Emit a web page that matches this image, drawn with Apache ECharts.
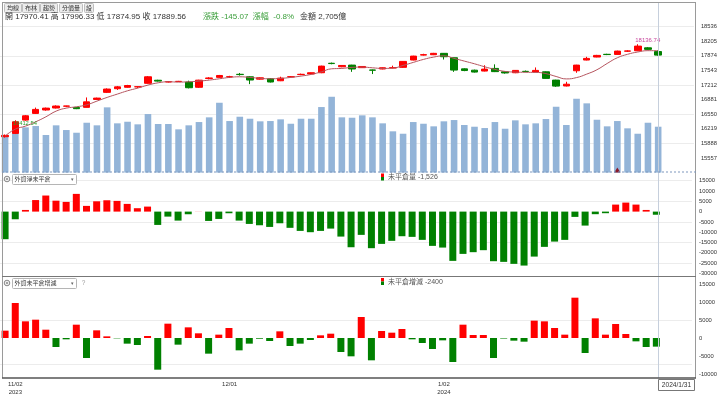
<!DOCTYPE html>
<html><head><meta charset="utf-8">
<script src="https://cdn.jsdelivr.net/npm/echarts@6/dist/echarts.min.js"></script>
<style>html,body{margin:0;padding:0;background:#fff}#c{width:720px;height:394px}</style>
</head><body><div id="c"></div>
<script>
// ---------------- data ----------------
const dates = ['2023/11/01','2023/11/02','2023/11/03','2023/11/06','2023/11/07','2023/11/08','2023/11/09','2023/11/10','2023/11/13','2023/11/14','2023/11/15','2023/11/16','2023/11/17','2023/11/20','2023/11/21','2023/11/22','2023/11/23','2023/11/24','2023/11/27','2023/11/28','2023/11/29','2023/11/30',
'2023/12/01','2023/12/04','2023/12/05','2023/12/06','2023/12/07','2023/12/08','2023/12/11','2023/12/12','2023/12/13','2023/12/14','2023/12/15','2023/12/18','2023/12/19','2023/12/20','2023/12/21','2023/12/22','2023/12/25','2023/12/26','2023/12/27','2023/12/28','2023/12/29',
'2024/01/02','2024/01/03','2024/01/04','2024/01/05','2024/01/08','2024/01/09','2024/01/10','2024/01/11','2024/01/12','2024/01/15','2024/01/16','2024/01/17','2024/01/18','2024/01/19','2024/01/22','2024/01/23','2024/01/24','2024/01/25','2024/01/26','2024/01/29','2024/01/30','2024/01/31'];
const opens  = [16040,16115,16416,16568,16645,16690,16732,16704,16705,16885,17045,17128,17160,17170,17250,17320,17280,17290,17278,17160,17360,17385,17395,17455,17398,17345,17353,17308,17395,17448,17462,17490,17705,17625,17663,17605,17552,17575,17598,17612,17778,17890,17898,17930,17830,17578,17548,17528,17588,17510,17490,17522,17506,17511,17323,17190,17535,17778,17846,17908,17905,17978,17988,18055,17970.41];
const closes = [16070,16378,16514,16659,16688,16735,16736,16675,16830,16915,17120,17170,17200,17173,17398,17300,17288,17295,17150,17322,17372,17428,17400,17448,17325,17375,17280,17368,17400,17455,17490,17640,17698,17655,17575,17632,17548,17603,17605,17747,17867,17900,17930,17853,17550,17540,17505,17572,17515,17485,17543,17518,17543,17362,17187,17230,17663,17815,17883,17902,17981,17985,18094,18020,17889.56];
const highs  = [16090,16412.54,16530,16700,16700,16750,16740,16712,16930,16925,17135,17190,17215,17178,17415,17330,17300,17305,17310,17330,17390,17440,17420,17485,17410,17385,17365,17400,17412,17470,17495,17650,17720,17665,17670,17640,17560,17610,17650,17755,17875,17920,17940,17935,17835,17590,17560,17660,17680,17520,17550,17540,17610,17520,17330,17285,17670,17851,17895,17920,17990,18000,18136.74,18070,17996.33];
const lows   = [16020,16100,16400,16555,16630,16680,16710,16665,16700,16880,17030,17100,17150,17140,17240,17290,17270,17280,17135,17145,17340,17375,17370,17425,17232,17335,17270,17300,17385,17435,17455,17480,17682,17615,17510,17598,17460,17568,17592,17600,17770,17880,17890,17790,17510,17525,17495,17520,17505,17470,17480,17500,17500,17355,17170,17180,17489,17770,17840,17890,17898,17960,17980,18010,17874.95];
const ma = [16054,16212,16280,16378,16491,16620,16688,16718,16763,16847,16931,17006,17081,17142,17210,17262,17285,17278,17285,17300,17323,17353,17384,17398,17384,17362,17353,17362,17384,17414,17452,17511,17579,17588,17611,17618,17602,17588,17595,17656,17724,17792,17845,17874,17815,17754,17693,17625,17566,17520,17505,17500,17498,17470,17405,17350,17380,17459,17558,17700,17830,17908,17960,17990,17990];
const volumes = [2115,2804,2668,2745,2215,2786,2509,2350,2939,2786,3846,2904,2998,2845,3452,2863,2863,2550,2786,2980,3257,4117,3039,3293,3175,3022,3039,3139,2880,3175,3175,3864,4470,3257,3234,3375,3257,2904,2433,2291,2980,2880,2727,3022,3098,2804,2704,2627,2980,2586,3080,2845,2904,3157,3882,2804,4353,4082,3116,2727,3039,2609,2291,2939,2705];
const netOI = [-13400,-3720,800,5600,7800,5300,4700,8600,2770,5000,5500,5200,3740,1650,2430,-6470,-2430,-4370,-1290,50,-4530,-3560,-800,-4370,-5980,-6630,-7440,-5660,-7880,-9370,-10000,-9370,-8250,-12130,-17300,-11300,-17760,-15670,-14200,-11950,-12270,-13720,-16640,-17460,-23920,-20530,-19700,-18730,-24080,-24400,-25370,-26200,-21840,-17120,-14560,-13720,-2570,-6790,-1260,-780,3400,4370,3400,800,-1526];
const oiChange = [2040,9720,4630,5090,2310,-2500,-370,3700,-5560,2130,460,-100,-1570,-1940,560,-8800,3980,-1850,2960,1300,-4350,930,2780,-3430,-1570,-200,-830,1850,-2220,-1570,-560,740,1200,-3890,-5090,5830,-6200,1940,1480,2500,-370,-1390,-3060,-650,-6670,3700,830,830,-5560,-150,-740,-1020,4820,4630,2780,930,11200,-4170,5460,930,3890,1110,-930,-2500,-2400];
const xLabelIdx = [1, 22, 43];
const xLabelText = ['11/02\n2023', '12/01', '1/02\n2024'];
const priceGridLines = [18536, 17874, 17212, 16550, 15888];
const oiGridLines = [15000, 5000, -5000, -15000, -25000];
const chgGridLines = [5000, -7300];
const maxLabel = '18136.74', minLabel = '16412.54';
const markerIdx = 60;
const headerBlack = '開 17970.41 高 17996.33 低 17874.95 收 17889.56';
const headerGreen = '漲跌 -145.07  漲幅  -0.8%';
const headerAmt = '金額 2,705億';
const buttons = ['均線', '布林', '趨勢', '分價量', '設'];
const legend2 = '未平倉量 -1,526', legend3 = '未平倉增減 -2400';
const select2 = '外資淨未平倉', select3 = '外資未平倉增減';
const lastLabel = '2024/1/31';

// ---------------- chart ----------------
const FONT = "'Liberation Sans','Noto Sans CJK TC',sans-serif";
const RED = '#ff0000', GREEN = '#008000';
const cats = dates.concat(['', '', '']);
const candleData = dates.map((d, i) => [opens[i], closes[i], lows[i], highs[i]]);
const GL = -2.42, GW = 696.3;
const gl = (vals) => ({ silent: true, symbol: ['none', 'none'], label: { show: false },
  lineStyle: { color: '#ececec', width: 1, type: 'solid' }, data: vals.map(v => ({ yAxis: v })) });
const yLab = { fontSize: 5.8, color: '#333', margin: 7, fontFamily: FONT, formatter: (v) => String(v) };
const hiddenX = (gi) => ({ type: 'category', gridIndex: gi, data: cats, show: false });

const chart = echarts.init(document.getElementById('c'));
chart.setOption({
  animation: false,
  grid: [
    { left: GL, width: GW, top: 12, height: 160.6 },
    { left: GL, width: GW, top: 170.4, height: 113.3 },
    { left: GL, width: GW, top: 266, height: 126 },
    { left: GL, width: GW, top: 378, height: 1 }
  ],
  xAxis: [hiddenX(0), hiddenX(1), hiddenX(2),
    { type: 'category', gridIndex: 3, data: cats, axisLine: { show: false }, axisTick: { show: false },
      axisLabel: { interval: (i) => xLabelIdx.includes(i), formatter: (v, i) => { const k = xLabelIdx.indexOf(i); return k >= 0 ? xLabelText[k] : ''; },
        fontSize: 6, lineHeight: 8, color: '#333', margin: 2, fontFamily: FONT } }
  ],
  yAxis: [
    { type: 'value', gridIndex: 0, position: 'right', min: 15226, max: 18867, interval: 331, scale: true,
      axisLine: { show: false }, axisTick: { show: false }, splitLine: { show: false },
      axisLabel: Object.assign({ showMinLabel: false, showMaxLabel: false }, yLab) },
    { type: 'value', gridIndex: 0, min: 0, max: 9466, show: false },
    { type: 'value', gridIndex: 1, position: 'right', min: -35000, max: 20000, interval: 5000,
      axisLine: { show: false }, axisTick: { show: false }, splitLine: { show: false },
      axisLabel: Object.assign({ showMinLabel: false, showMaxLabel: false }, yLab) },
    { type: 'value', gridIndex: 2, position: 'right', min: -15000, max: 20000, interval: 5000,
      axisLine: { show: false }, axisTick: { show: false }, splitLine: { show: false },
      axisLabel: Object.assign({ showMinLabel: false, showMaxLabel: false }, yLab) },
    { type: 'value', gridIndex: 3, show: false }
  ],
  series: [
    { type: 'bar', name: 'vol', xAxisIndex: 0, yAxisIndex: 1, data: volumes, barWidth: 6.6, z: 1,
      itemStyle: { color: '#93b4d8' },
      markPoint: { silent: true, data: [{ coord: [dates[markerIdx], 0], symbol: 'triangle', symbolSize: [6, 5], symbolOffset: [0, -2.5],
        itemStyle: { color: '#8b1a2a' }, label: { show: false } }] } },
    { type: 'candlestick', name: 'k', xAxisIndex: 0, yAxisIndex: 0, data: candleData, barWidth: 7, z: 3,
      itemStyle: { color: RED, color0: GREEN, borderColor: RED, borderColor0: GREEN, borderWidth: 1 },
      markLine: Object.assign(gl(priceGridLines), { z: 0 }),
      markPoint: { silent: true, symbol: 'circle', symbolSize: 1, z: 10, itemStyle: { color: 'rgba(0,0,0,0)' },
        data: [
          { coord: [dates[62], 18136.74], label: { show: true, formatter: maxLabel, position: 'inside', offset: [10, -3.8], color: '#c8479d', fontSize: 6, fontFamily: FONT } },
          { coord: [dates[1], 16412.54], label: { show: true, formatter: minLabel, position: 'inside', offset: [9.5, 3], color: '#2f9d2f', fontSize: 5.8, fontFamily: FONT } }
        ] } },
    { type: 'line', name: 'ma', xAxisIndex: 0, yAxisIndex: 0, data: ma, smooth: true, symbol: 'none', z: 4,
      lineStyle: { color: '#b5545e', width: 1 } },
    { type: 'bar', name: 'net', xAxisIndex: 1, yAxisIndex: 2, data: netOI, barWidth: 7, z: 2,
      itemStyle: { color: (p) => p.value >= 0 ? RED : GREEN }, markLine: Object.assign(gl(oiGridLines), { z: 0 }) },
    { type: 'bar', name: 'chg', xAxisIndex: 2, yAxisIndex: 3, data: oiChange, barWidth: 7, z: 2,
      itemStyle: { color: (p) => p.value >= 0 ? RED : GREEN }, markLine: Object.assign(gl(chgGridLines), { z: 0 }) }
  ]
});

// ---------------- chrome (frame, toolbar, header, widgets) ----------------
const px = chart.convertToPixel({ xAxisIndex: 0 }, dates[dates.length - 1]);
const g = [];
const L = (x1, y1, x2, y2, stroke, w, dash, z) => g.push({ type: 'line', silent: true, z: z || 50,
  shape: { x1, y1, x2, y2 }, style: { stroke, lineWidth: w || 1, lineDash: dash || null } });
const T = (x, y, text, size, fill, align, z) => g.push({ type: 'text', silent: true, z: z || 60, x, y,
  style: { text, fontSize: size, fontFamily: FONT, fill, align: align || 'left', verticalAlign: 'middle' } });
const R = (x, y, w, h, fill, stroke, r, z) => g.push({ type: 'rect', silent: true, z: z || 55,
  shape: { x, y, width: w, height: h, r: r || 0 }, style: { fill, stroke, lineWidth: 1 } });

// crosshair at last bar
L(Math.round(px) + 0.5, 2, Math.round(px) + 0.5, 378, '#c6cfdc', 1, null, 40);
// frame
L(2, 2.5, 696, 2.5, '#9a9a9a');
L(2.5, 2, 2.5, 378, '#9a9a9a');
L(695.5, 2, 695.5, 378, '#9a9a9a');
L(2, 172, 696, 172, '#7f97bd', 1, [2, 2]);
L(2, 276.5, 696, 276.5, '#777');
L(2, 378, 696, 378, '#555', 1.6);
// toolbar
const bx = [4, 22, 40, 59, 84], bw = [17, 17, 17, 23, 9];
buttons.forEach((b, i) => { R(bx[i] + 0.5, 3.5, bw[i], 9, '#ececec', '#bdbdbd', 1); T(bx[i] + 0.5 + bw[i] / 2, 8, b, 6, '#333', 'center'); });
// header
T(5, 17, headerBlack, 8, '#333');
T(203, 17, headerGreen, 8, '#3a9e3a');
T(300, 17, headerAmt, 8, '#333');
// panel widgets
const widget = (y, label) => {
  g.push({ type: 'circle', silent: true, z: 60, shape: { cx: 7, cy: y + 5, r: 2.8 }, style: { fill: '#eee', stroke: '#888', lineWidth: 1 } });
  g.push({ type: 'circle', silent: true, z: 61, shape: { cx: 7, cy: y + 5, r: 1 }, style: { fill: '#888' } });
  R(12.5, y + 0.5, 64, 10, '#fff', '#b5b5b5', 1);
  T(14.5, y + 5.5, label, 6, '#333');
  T(72, y + 5.5, '▾', 5, '#666', 'center');
};
widget(174, select2);
widget(278, select3);
T(83.5, 283.5, '?', 6.5, '#999', 'center');
// legends
const leg = (x, y, text) => { R(x, y - 4, 3, 3.5, RED, null, 0); R(x, y - 0.5, 3, 3.5, GREEN, null, 0); T(x + 7, y, text, 7, '#555'); };
leg(381, 177.5, legend2);
leg(381, 282, legend3);
// last-date label box
R(Math.round(px) + 0.5, 379.5, 36, 11, '#fff', '#777', 0, 70);
T(Math.round(px) + 18.5, 385.5, lastLabel, 6.6, '#333', 'center', 71);
chart.setOption({ graphic: g });
</script></body></html>
